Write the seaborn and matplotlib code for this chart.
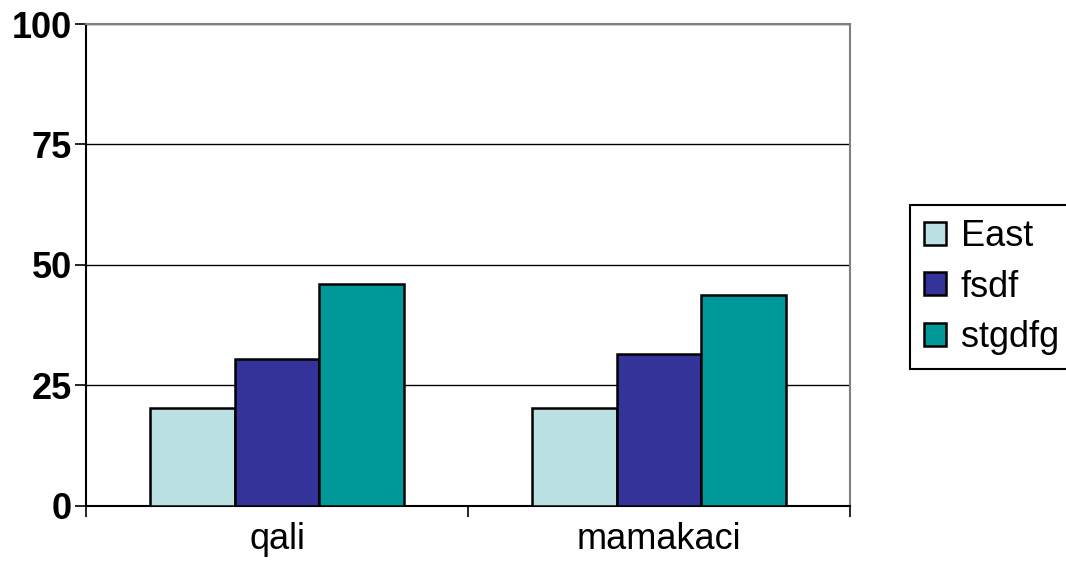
import pandas as pd
import matplotlib.pyplot as plt
import seaborn as sns

# ---- data
categories = ['qali', 'mamakaci']
series = ['East', 'fsdf', 'stgdfg']
east = [20.3, 20.3]
fsdf = [30.5, 31.6]
stgdfg = [46.0, 43.8]
colors = ['#BBE0E3', '#333399', '#009999']
y_ticks = [0, 25, 50, 75, 100]

rows = []
for name, vals in zip(series, [east, fsdf, stgdfg]):
	for cat, v in zip(categories, vals):
		rows.append({'cat': cat, 'series': name, 'value': v})
df = pd.DataFrame(rows)

sns.set_style('white')
plt.rcParams['font.family'] = ['Liberation Sans', 'DejaVu Sans']
plt.rcParams['text.color'] = 'black'
plt.rcParams['xtick.color'] = 'black'
plt.rcParams['ytick.color'] = 'black'

fig = plt.figure(figsize=(10.66, 5.66), dpi=100)
ax = fig.add_axes([0.0807, 0.1065, 0.7167, 0.851])

sns.barplot(data=df, x='cat', y='value', hue='series', order=categories,
            hue_order=series, palette=colors, width=0.665, gap=0,
            edgecolor='black', linewidth=1.8, saturation=1, ax=ax, zorder=3)

ax.set_ylim(0, 100)
ax.set_xlim(-0.5, 1.5)
ax.set_yticks(y_ticks)
ax.set_yticklabels([str(t) for t in y_ticks], fontsize=26, fontweight='bold', color='black')
ax.yaxis.grid(True, color='black', linewidth=1.0, zorder=0)
ax.set_axisbelow(True)
ax.tick_params(axis='y', length=8, width=1.2, color='black', pad=2, left=True)

ax.set_xticks([0, 1])
ax.set_xticklabels(categories, fontsize=26, color='black')
ax.set_xticks([-0.5, 0.5, 1.5], minor=True)
ax.tick_params(axis='x', which='major', length=0, pad=12)
ax.tick_params(axis='x', which='minor', length=8, width=1.2, color='black', bottom=True)
ax.set_xlabel('')
ax.set_ylabel('')

for side in ['left', 'bottom']:
	ax.spines[side].set_color('black')
	ax.spines[side].set_linewidth(1.5)
for side in ['top', 'right']:
	ax.spines[side].set_color('#808080')
	ax.spines[side].set_linewidth(1.5)

handles, labels = ax.get_legend_handles_labels()
ax.legend_.remove()
leg = fig.legend(handles, labels, loc='upper left', bbox_to_anchor=(910 / 1066, 1 - 205 / 566),
                 fontsize=26, frameon=True, fancybox=False, edgecolor='black', framealpha=1,
                 handlelength=0.6, handleheight=0.6, handletextpad=0.4,
                 labelspacing=0.42, borderpad=0.4, borderaxespad=0)
leg.get_frame().set_linewidth(1.5)
for t in leg.get_texts():
	t.set_color('black')

fig.savefig('out.png', dpi=100)
